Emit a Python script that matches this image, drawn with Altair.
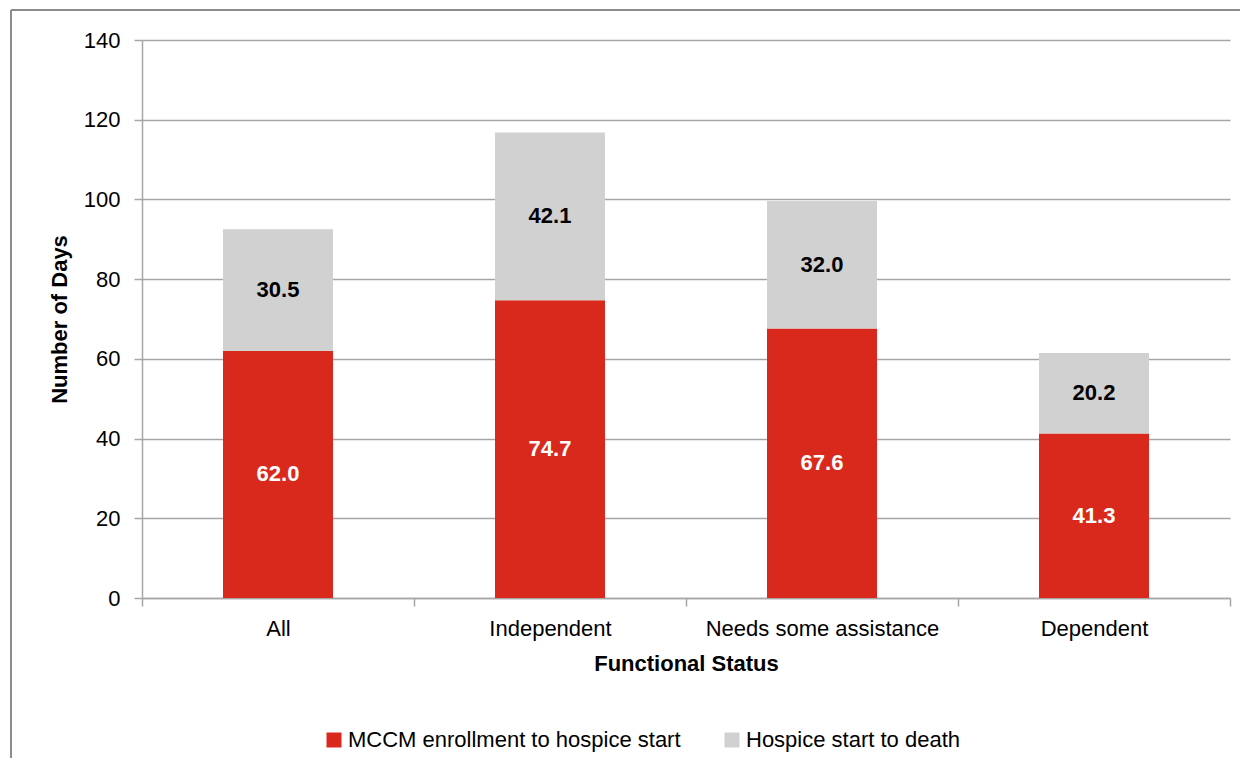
import altair as alt
import pandas as pd

categories = ["All", "Independent", "Needs some assistance", "Dependent"]
series = ["MCCM enrollment to hospice start", "Hospice start to death"]
enroll_to_hospice = [62.0, 74.7, 67.6, 41.3]
hospice_to_death = [30.5, 42.1, 32.0, 20.2]
colors = ["#D9291C", "#D0D1D0"]
y_ticks = [0, 20, 40, 60, 80, 100, 120, 140]

rows = []
for i, c in enumerate(categories):
    rows.append({"status": c, "series": series[0], "days": enroll_to_hospice[i], "order": 0})
    rows.append({"status": c, "series": series[1], "days": hospice_to_death[i], "order": 1})
df = pd.DataFrame(rows)

FONT = "Liberation Sans, Arial, sans-serif"

x_enc = alt.X(
    "status:N",
    sort=categories,
    title="Functional Status",
    scale=alt.Scale(paddingInner=0, paddingOuter=0),
    axis=alt.Axis(
        labelAngle=0,
        labelLimit=0,
        tickBand="extent",
        tickSize=8,
        labelPadding=12,
        titlePadding=14,
        domainColor="#A6A6A6",
        tickColor="#A6A6A6",
        domainWidth=1.5,
        tickWidth=1.5,
        labelFontSize=22,
        titleFontSize=22,
        labelColor="#000000",
        titleColor="#000000",
        titleFontWeight="bold",
        labelFont=FONT,
        titleFont=FONT,
        grid=False,
    ),
)

y_scale = alt.Scale(domain=[0, 140], nice=False)
y_axis = alt.Axis(
    values=y_ticks,
    tickSize=8,
    labelPadding=14,
    titlePadding=12,
    domainColor="#A6A6A6",
    tickColor="#A6A6A6",
    gridColor="#A6A6A6",
    domainWidth=1.5,
    tickWidth=1.5,
    gridWidth=1.5,
    labelFontSize=22,
    titleFontSize=22,
    labelColor="#000000",
    titleColor="#000000",
    titleFontWeight="bold",
    labelFont=FONT,
    titleFont=FONT,
)

bars = alt.Chart(df).mark_bar(size=110).encode(
    x=x_enc,
    y=alt.Y("sum(days):Q", scale=y_scale, axis=y_axis, title="Number of Days", stack="zero"),
    color=alt.Color(
        "series:N",
        scale=alt.Scale(domain=series, range=colors),
        sort=series,
        legend=alt.Legend(
            title=None,
            orient="none",
            legendX=181,
            legendY=689,
            direction="horizontal",
            columns=2,
            columnPadding=40,
            symbolType="square",
            symbolSize=225,
            symbolStrokeWidth=0,
            labelFontSize=22,
            labelFont=FONT,
            labelColor="#000000",
            labelOffset=3,
            labelLimit=0,
        ),
    ),
    order=alt.Order("order:Q", sort="ascending"),
)

base_text = alt.Chart(df).transform_stack(
    stack="days", groupby=["status"], as_=["y0", "y1"], sort=[alt.SortField("order", order="ascending")]
).transform_calculate(mid="(datum.y0 + datum.y1) / 2")

text_red = base_text.transform_filter(alt.datum.order == 0).mark_text(
    fontSize=22, fontWeight="bold", font=FONT, color="#FFFFFF"
).encode(
    x=alt.X("status:N", sort=categories),
    y=alt.Y("mid:Q", scale=y_scale),
    text=alt.Text("days:Q", format=".1f"),
)

text_gray = base_text.transform_filter(alt.datum.order == 1).mark_text(
    fontSize=22, fontWeight="bold", font=FONT, color="#000000"
).encode(
    x=alt.X("status:N", sort=categories),
    y=alt.Y("mid:Q", scale=y_scale),
    text=alt.Text("days:Q", format=".1f"),
)

frame_df = pd.DataFrame({"k": [0]})
frame_top = alt.Chart(frame_df).mark_rule(color="#8C8C8C", strokeWidth=2).encode(
    x=alt.value(-131), x2=alt.value(1100), y=alt.value(-30)
)
frame_left = alt.Chart(frame_df).mark_rule(color="#8C8C8C", strokeWidth=2).encode(
    x=alt.value(-131), y=alt.value(-30), y2=alt.value(730)
)

chart = alt.layer(bars, text_red, text_gray, frame_top, frame_left).properties(
    width=1088,
    height=558,
    autosize=alt.AutoSizeParams(type="none"),
    padding={"left": 134, "top": 32, "right": 10, "bottom": 160},
    background="#FFFFFF",
).configure_view(stroke=None)

chart.save("out.html", embed_options={"renderer": "svg", "actions": False})
